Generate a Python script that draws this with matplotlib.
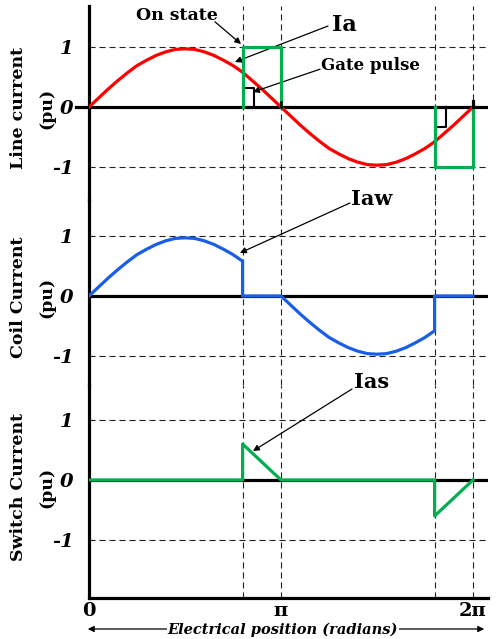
import numpy as np
import matplotlib
matplotlib.use("Agg")
import matplotlib.pyplot as plt

# electrical angle in units of pi
theta = np.linspace(0, 2, 41)
line_current = [0.00, 0.15, 0.30, 0.44, 0.57, 0.69, 0.78, 0.86, 0.92, 0.96, 0.97,
                0.96, 0.92, 0.86, 0.78, 0.69, 0.58, 0.44, 0.30, 0.15, 0.00,
                -0.15, -0.30, -0.44, -0.57, -0.69, -0.78, -0.86, -0.92, -0.96, -0.97,
                -0.96, -0.92, -0.86, -0.78, -0.69, -0.58, -0.44, -0.30, -0.15, 0.00]

firing = [0.8, 1.8]          # switch turn-on angles (pi)
conduction = 0.2             # switch on-state width (pi)
on_level = [1, -1]
gate_width = 0.06
gate_height = [0.32, -0.33]

switch_theta = [0, 0.8, 0.8, 1.0, 1.8, 1.8, 2.0]
switch_current = [0, 0, 0.60, 0, 0, -0.60, 0]

grid_theta = [0.8, 1.0, 1.8, 2.0]

RED = "#ff0000"
GREEN = "#00b050"
BLUE = "#1a5ee8"
SERIF = "DejaVu Serif"

# coil current = line current except while the switch conducts
coil_x, coil_y = [], []
for t, i in zip(theta, line_current):
    if any(abs(t - f) < 1e-9 for f in firing):
        coil_x += [t, t]
        coil_y += [i, 0]
    elif any(f < t < f + conduction + 1e-9 for f in firing):
        coil_x.append(t)
        coil_y.append(0)
    else:
        coil_x.append(t)
        coil_y.append(i)

W, H = 497, 639
fig = plt.figure(figsize=(W / 100, H / 100), dpi=100)

x0, x1 = 89, 488          # axis extent in pixels
px_per_pi = 192
px_per_unit = 60


def panel(top, bottom, zero):
    ax = fig.add_axes([x0 / W, (H - bottom) / H, (x1 - x0) / W, (bottom - top) / H])
    ax.patch.set_alpha(0)
    ax.set_xlim(0, (x1 - x0) / px_per_pi)
    ax.set_ylim(-(bottom - zero) / px_per_unit, (zero - top) / px_per_unit)
    for s in ("top", "right", "bottom"):
        ax.spines[s].set_visible(False)
    ax.spines["left"].set_linewidth(2.3)
    ax.set_xticks([])
    ax.set_yticks([-1, 0, 1])
    ax.set_yticklabels(["-1", "0", "1"], fontfamily=SERIF, fontweight="bold",
                       fontstyle="italic", fontsize=14)
    ax.tick_params(axis="y", length=0, pad=11)
    for lvl in (1, -1):
        ax.axhline(lvl, color="#222222", lw=0.8, ls=(0, (5.5, 3.5)), zorder=1)
    for g in grid_theta:
        ax.axvline(g, color="#222222", lw=0.8, ls=(0, (5.5, 3.5)), zorder=1)
    ax.axhline(0, color="black", lw=2.3, zorder=2)
    return ax


ax1 = panel(6, 200, 107)
ax2 = panel(200, 385, 296)
ax3 = panel(385, 598, 480)
ax3.spines["bottom"].set_visible(True)
ax3.spines["bottom"].set_linewidth(2.3)
ax3.set_xticks([0, 1, 2])
ax3.set_xticklabels(["0", "π", "2π"], fontfamily=SERIF, fontweight="bold", fontsize=14)
ax3.tick_params(axis="x", length=0, pad=3)

# line current panel
ax1.plot([-0.07, 0], [0, 0], color="black", lw=2.3, clip_on=False)
ax1.plot(theta, line_current, color=RED, lw=2.3, zorder=3)
for f, lvl, gh in zip(firing, on_level, gate_height):
    ax1.plot([f, f + gate_width, f + gate_width], [gh, gh, 0], color="black", lw=1.5, zorder=3)
    ax1.plot([f, f, f + conduction, f + conduction], [0, lvl, lvl, 0],
             color=GREEN, lw=2.3, zorder=4)
# small marks on the zero line at pi and 2pi
ax1.plot([1, 1], [0, 0.08], color="black", lw=1.8, zorder=5)
ax1.plot([2, 2], [0, 0.1], color="black", lw=2.3, zorder=5)

# coil current panel
ax2.plot(coil_x, coil_y, color=BLUE, lw=2.3, zorder=3)

# switch current panel
ax3.plot(switch_theta, switch_current, color=GREEN, lw=2.3, zorder=3)

arrow = dict(arrowstyle="-|>", color="black", lw=0.9, shrinkA=0, shrinkB=0, mutation_scale=9)
label = dict(fontfamily=SERIF, fontweight="bold", ha="center", va="center")

ax1.text(0.458, 1.53, "On state", fontsize=12.5, **label)
ax1.annotate("", xy=(0.792, 1.05), xytext=(0.656, 1.42), arrowprops=arrow)
ax1.text(1.33, 1.36, "Ia", fontsize=16, **label)
ax1.annotate("", xy=(0.76, 0.75), xytext=(1.245, 1.35), arrowprops=arrow)
ax1.text(1.464, 0.69, "Gate pulse", fontsize=12, **label)
ax1.annotate("", xy=(0.854, 0.25), xytext=(1.203, 0.63), arrowprops=arrow)

ax2.text(1.474, 1.62, "Iaw", fontsize=15, clip_on=False, **label)
ax2.annotate("", xy=(0.786, 0.717), xytext=(1.359, 1.55), arrowprops=arrow,
             annotation_clip=False)

ax3.text(1.474, 1.63, "Ias", fontsize=15, clip_on=False, **label)
ax3.annotate("", xy=(0.854, 0.483), xytext=(1.37, 1.517), arrowprops=arrow,
             annotation_clip=False)

# y-axis titles, two lines each
for first, yc in (("Line current", 108), ("Coil Current", 297), ("Switch Current", 487)):
    fig.text(18.5 / W, (H - yc) / H, first, rotation=90, fontsize=12.5, **label)
    fig.text(47 / W, (H - yc) / H, "(pu)", rotation=90, fontsize=12.5, **label)

# x-axis title with double-headed arrow
fig.add_artist(matplotlib.patches.FancyArrowPatch(
    (85 / W, 10 / H), (487 / W, 10 / H), transform=fig.transFigure,
    arrowstyle="<|-|>", mutation_scale=9, lw=0.9, color="black"))
fig.text(283 / W, 9.5 / H, "Electrical position (radians)", fontsize=10.5,
         fontstyle="italic", bbox=dict(facecolor="white", edgecolor="none", pad=0.5), **label)

fig.savefig("out.png", dpi=100)
